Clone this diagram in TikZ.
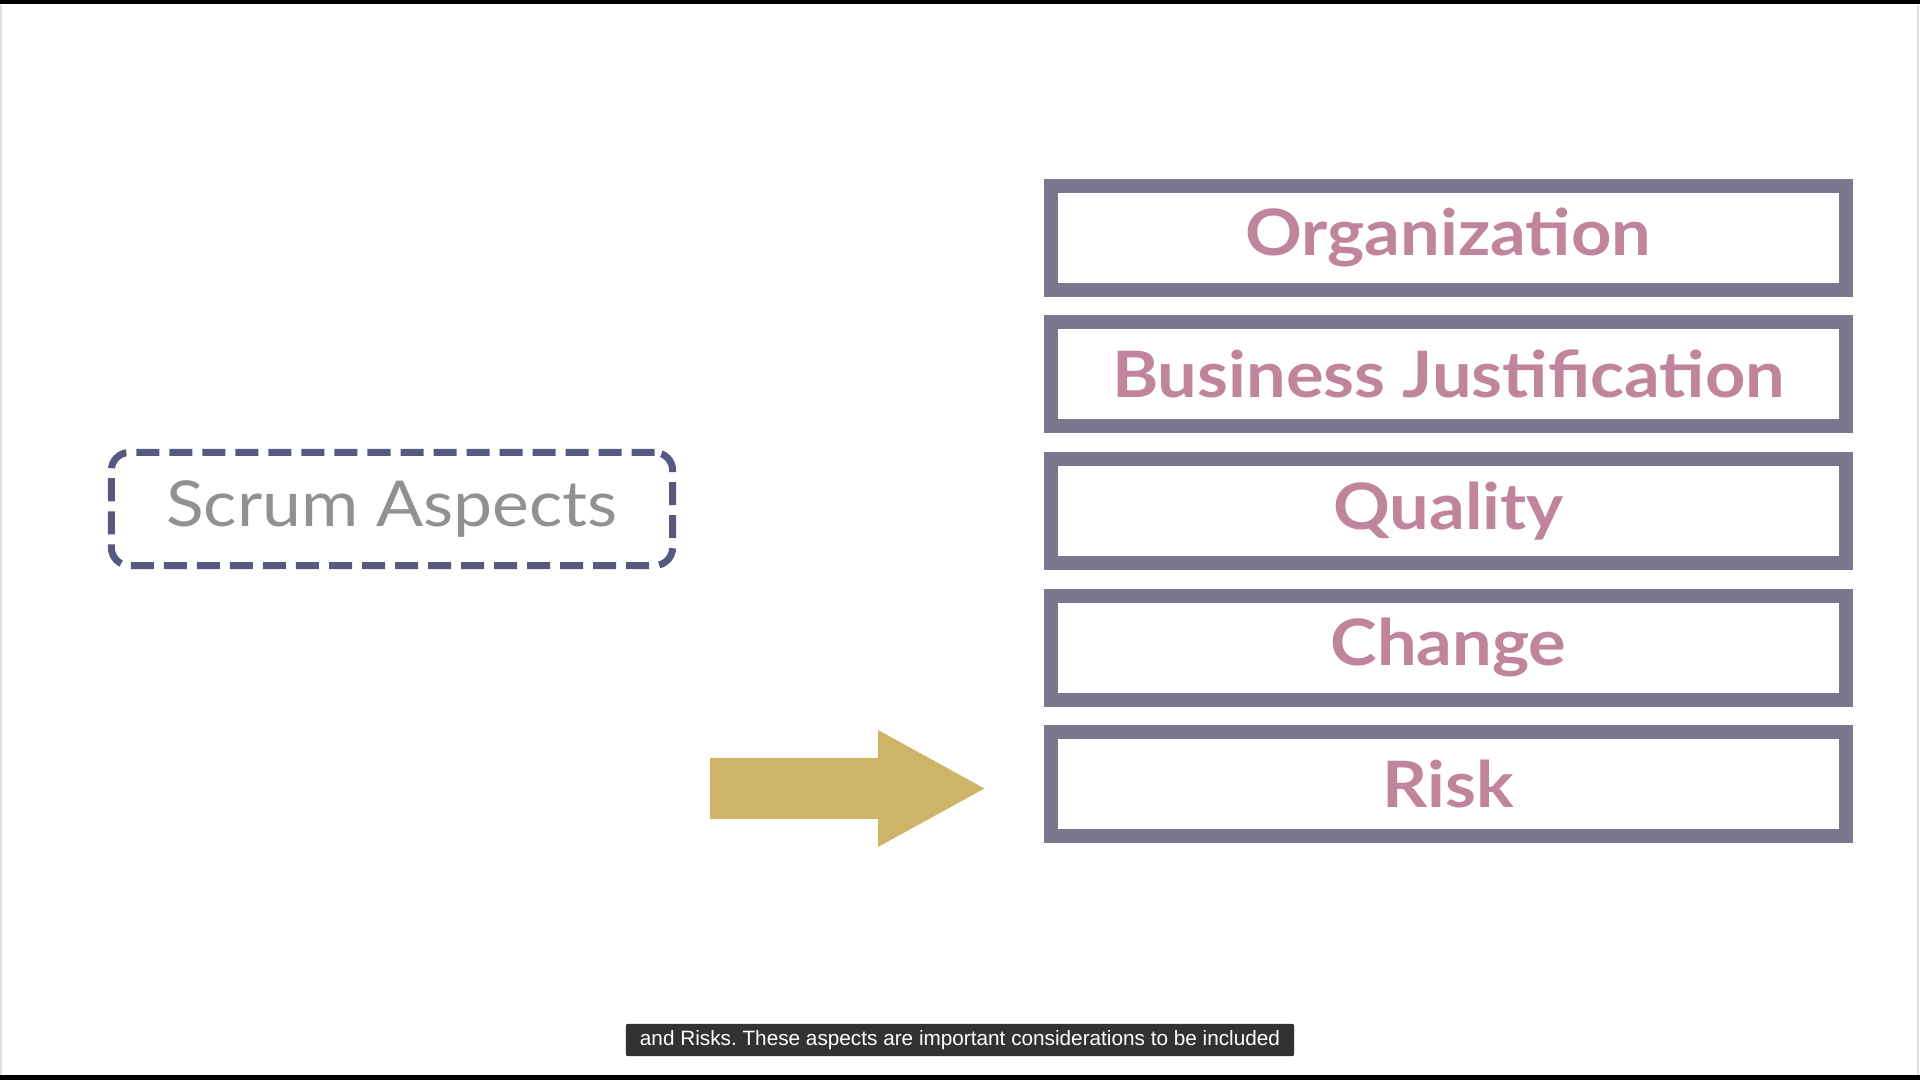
\documentclass[tikz,border=0pt]{standalone}
\usepackage{fontspec}
\setmainfont{Lato}
\newfontfamily\widefont[FakeStretch=1.1]{Lato}
\newfontfamily\capfont{Liberation Sans}
\usetikzlibrary{matrix}
\frenchspacing

\definecolor{framegray}{RGB}{123,117,141}
\definecolor{aspectpink}{RGB}{192,133,157}
\definecolor{dashblue}{RGB}{87,89,128}
\definecolor{scrumgray}{RGB}{145,145,145}
\definecolor{arrowgold}{RGB}{205,180,103}
\definecolor{captiongray}{RGB}{50,50,50}

\tikzset{
    aspectbox/.style={fill=framegray, minimum width=8.09cm, minimum height=1.18cm,
        text=aspectpink, font=\widefont\fontsize{18.2}{20}\selectfont\bfseries,
        path picture={\fill[white] ([xshift=0.14cm,yshift=0.14cm]path picture bounding box.south west)
            rectangle ([xshift=-0.14cm,yshift=-0.14cm]path picture bounding box.north east);}},
    scrumbox/.style={draw=dashblue, line width=0.07cm, dash pattern=on 0.23cm off 0.1cm,
        rounded corners=0.18cm, minimum width=5.61cm, minimum height=1.13cm,
        text=scrumgray, font=\widefont\fontsize{18}{20}\selectfont},
    captionbox/.style={fill=captiongray, rounded corners=0.02cm, text=white,
        minimum width=6.68cm, minimum height=0.32cm, inner sep=0pt,
        font=\capfont\fontsize{5.9}{7}\selectfont}
}

\begin{document}
\begin{tikzpicture}[x=0.01cm, y=-0.01cm]
    \useasboundingbox (0,0) rectangle (1920,1080);
    \fill[black] (0,0) rectangle (1920,4);
    \fill[black] (0,1075) rectangle (1920,1080);
    \draw[black!12, line width=0.02cm] (1,5) -- (1,1075) (1918,5) -- (1918,1075);

    \matrix (aspects) [matrix of nodes, nodes={aspectbox}, row sep=0.185cm] at (1448.5,511) {
        Organization \\
        Business Justification \\
        Quality \\
        Change \\
        Risk \\
    };

    \node (scrum) [scrumbox] at (392,509) {Scrum Aspects};

    % pointer to the last aspect
    \fill[arrowgold] (710,758) -- (878,758) -- (878,730) -- (984.5,788.5)
        -- (878,847) -- (878,819) -- (710,819) -- cycle;

    \node (caption) [captionbox] at (960,1040)
        {and Risks. These aspects are important considerations to be included};
\end{tikzpicture}
\end{document}
